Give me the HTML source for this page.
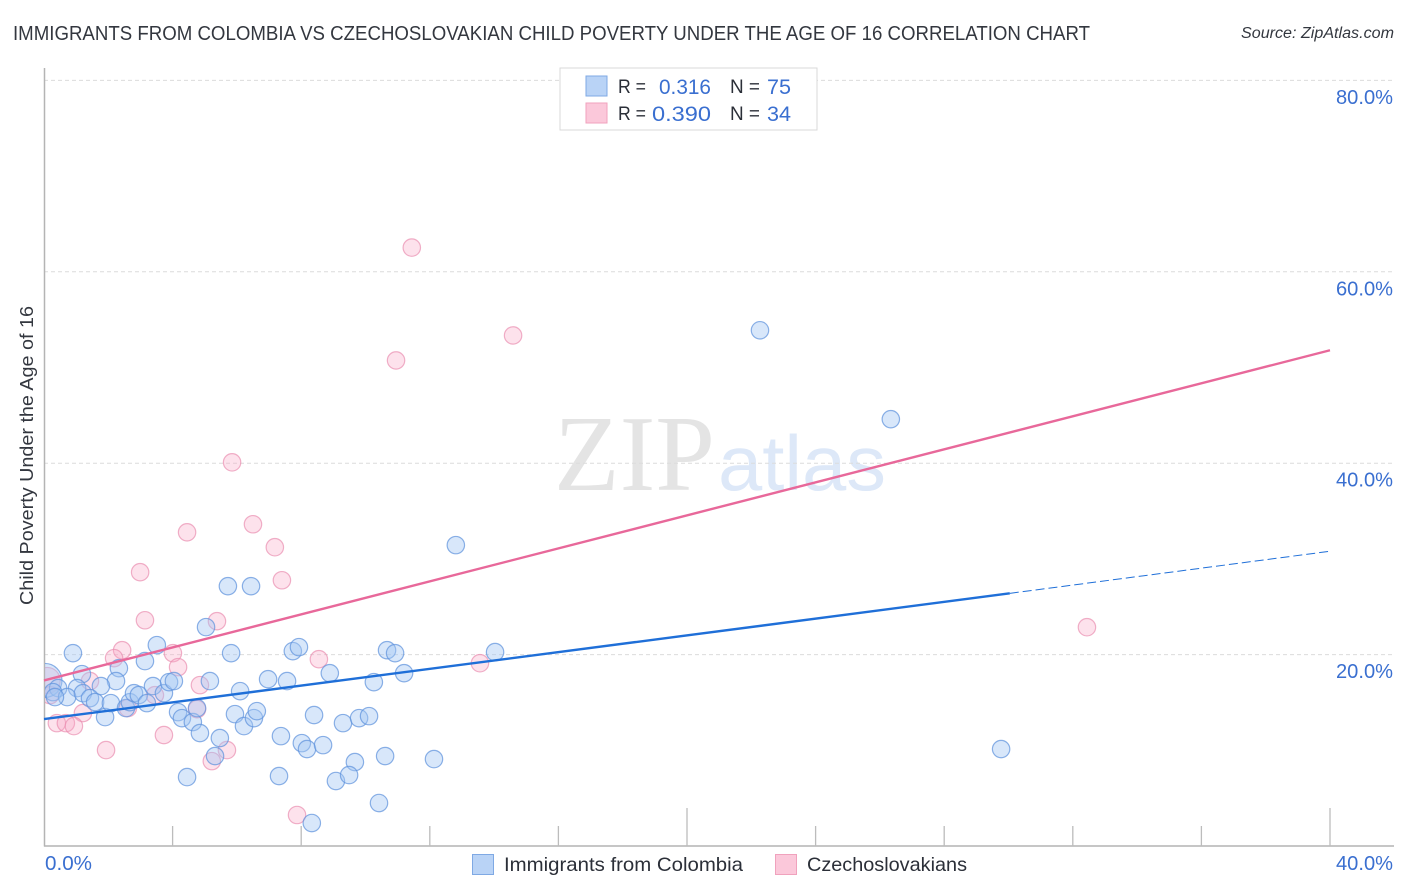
<!DOCTYPE html>
<html>
<head>
<meta charset="utf-8">
<style>
html,body{margin:0;padding:0;background:#fff;}
svg{display:block;}
text{font-family:"Liberation Sans",sans-serif;}
</style>
</head>
<body>
<svg id="chart" width="1406" height="892" viewBox="0 0 1406 892" xmlns="http://www.w3.org/2000/svg">
  <defs>
    <clipPath id="plotClip"><rect x="45" y="60" width="1350" height="787"/></clipPath>
  </defs>
  <rect x="0" y="0" width="1406" height="892" fill="#ffffff"/>
  <text x="13" y="40" font-size="20" fill="#33373f" textLength="1077" lengthAdjust="spacingAndGlyphs">IMMIGRANTS FROM COLOMBIA VS CZECHOSLOVAKIAN CHILD POVERTY UNDER THE AGE OF 16 CORRELATION CHART</text>
  <text x="1241" y="38" font-size="15.5" font-style="italic" fill="#33373f" textLength="153" lengthAdjust="spacingAndGlyphs">Source: ZipAtlas.com</text>
  <g id="watermark">
    <text x="554" y="490" font-size="108" fill="#e4e4e4" style="font-family:'Liberation Serif',serif" textLength="161" lengthAdjust="spacingAndGlyphs">ZIP</text>
    <text x="718" y="490" font-size="78" fill="#dde8f8" textLength="168" lengthAdjust="spacingAndGlyphs">atlas</text>
  </g>
  <g id="grid"></g>
  <g id="axes"></g>
  <g id="pinkPoints" clip-path="url(#plotClip)"></g>
  <g id="bluePoints" clip-path="url(#plotClip)"></g>
  <g id="trends"></g>
  <text transform="translate(33,455.5) rotate(-90)" text-anchor="middle" font-size="18" fill="#33373f" textLength="299" lengthAdjust="spacingAndGlyphs">Child Poverty Under the Age of 16</text>
  <g>
    <rect x="560" y="68" width="257" height="62" fill="#ffffff" stroke="#d9d9d9" stroke-width="1"/>
    <rect x="586" y="76" width="21" height="20" fill="#b9d3f6" stroke="#7fa9e4" stroke-width="1"/>
    <rect x="586" y="103" width="21" height="20" fill="#fbc8da" stroke="#f0a2bd" stroke-width="1"/>
    <text x="618" y="93" font-size="19" fill="#2b2f38" textLength="28" lengthAdjust="spacingAndGlyphs">R =</text>
    <text x="659" y="94" font-size="21" fill="#3a6fd0" textLength="52" lengthAdjust="spacingAndGlyphs">0.316</text>
    <text x="730" y="93" font-size="19" fill="#2b2f38" textLength="30" lengthAdjust="spacingAndGlyphs">N =</text>
    <text x="767" y="94" font-size="21" fill="#3a6fd0" textLength="24" lengthAdjust="spacingAndGlyphs">75</text>
    <text x="618" y="120" font-size="19" fill="#2b2f38" textLength="28" lengthAdjust="spacingAndGlyphs">R =</text>
    <text x="652" y="121" font-size="21" fill="#3a6fd0" textLength="59" lengthAdjust="spacingAndGlyphs">0.390</text>
    <text x="730" y="120" font-size="19" fill="#2b2f38" textLength="30" lengthAdjust="spacingAndGlyphs">N =</text>
    <text x="767" y="121" font-size="21" fill="#3a6fd0" textLength="24" lengthAdjust="spacingAndGlyphs">34</text>
  </g>
  <g>
    <rect x="472.5" y="854.5" width="21" height="20" fill="#b9d3f6" stroke="#7fa9e4" stroke-width="1"/>
    <text x="504" y="871" font-size="19.5" fill="#2b2f38" textLength="239" lengthAdjust="spacingAndGlyphs">Immigrants from Colombia</text>
    <rect x="775.5" y="854.5" width="21" height="20" fill="#fbc8da" stroke="#f0a2bd" stroke-width="1"/>
    <text x="807" y="871" font-size="19.5" fill="#2b2f38" textLength="160" lengthAdjust="spacingAndGlyphs">Czechoslovakians</text>
  </g>
</svg>
<script>
var yTickValues = [20, 40, 60, 80];
var yTickLabels = ["20.0%", "40.0%", "60.0%", "80.0%"];
var xTickValues = [4, 8, 12, 16, 20, 24, 28, 32, 36, 40];
var xMajorTicks = [20, 40];
var xEdgeValues = [0, 40];
var xEdgeLabels = ["0.0%", "40.0%"];

var colombiaX = [22.27,26.34,12.81,29.77,5.72,6.44,5.04,3.51,0.90,3.14,5.82,7.74,7.93,10.67,10.92,14.03,1.18,2.33,2.24,1.77,0.03,0.44,1.03,0.28,0.72,1.21,1.43,1.59,1.90,2.08,2.55,2.67,2.80,2.95,3.20,3.39,3.73,3.89,4.04,5.16,6.10,6.97,7.56,8.89,10.26,11.20,4.17,4.29,4.63,4.76,4.85,5.47,5.94,6.22,6.53,6.62,7.37,8.40,9.30,9.80,10.11,8.02,8.18,8.68,9.67,10.61,12.13,4.45,5.32,7.31,9.08,9.49,10.42,8.33,0.34];
var colombiaY = [53.89,44.6,31.44,10.13,27.15,27.15,22.87,20.99,20.15,19.32,20.15,20.36,20.78,20.46,20.15,20.26,17.96,18.58,17.23,16.71,17.3,16.5,16.5,16.08,15.56,15.97,15.45,15.04,13.47,14.93,14.41,15.03,15.97,15.77,14.93,16.71,15.97,17.12,17.23,17.23,16.18,17.43,17.23,18.06,17.12,18.06,13.99,13.36,12.95,14.41,11.8,11.28,13.78,12.53,13.36,14.09,11.48,13.68,12.84,13.36,13.57,10.75,10.13,10.54,8.77,9.4,9.08,7.2,9.4,7.31,6.79,7.41,4.49,2.4,15.56];
var colombiaLargeIndex = 20;

var czechX = [11.44,14.59,10.95,5.85,4.45,6.5,7.18,2.99,7.40,3.14,5.38,2.43,2.18,4.01,4.17,8.55,13.56,32.44,4.85,0.10,0.19,1.43,1.21,0.40,0.68,0.93,2.61,3.45,4.76,3.73,1.93,5.69,5.22,7.87];
var czechY = [62.53,53.35,50.74,40.09,32.78,33.62,31.22,28.61,27.77,23.59,23.49,20.46,19.63,20.15,18.69,19.52,19.1,22.86,16.81,17.3,15.76,17.23,13.89,12.84,12.84,12.53,14.41,15.76,14.3,11.59,10.02,10.02,8.87,3.24];
var czechLargeIndex = 19;

var czechTrendX = [0, 40];
var czechTrendY = [17.3, 51.8];
var colombiaTrendX = [0, 30.04];
var colombiaTrendY = [13.26, 26.4];
var colombiaDashX = [30.04, 40];
var colombiaDashY = [26.4, 30.8];

var NS = 'http://www.w3.org/2000/svg';
function xPos(v) { return 44 + v * 32.15; }
function yPos(v) { return 846 - v * 9.57; }
function make(tag, parentId, attrs) {
  var el = document.createElementNS(NS, tag);
  for (var k in attrs) { el.setAttribute(k, attrs[k]); }
  document.getElementById(parentId).appendChild(el);
  return el;
}

yTickValues.forEach(function (v, i) {
  var gl = make('line', 'grid', {x1: 44, x2: 1394, y1: yPos(v), y2: yPos(v), stroke: '#dcdcdc', 'stroke-width': 1, 'stroke-dasharray': '4 3'});
  
  
  var lb = make('text', 'axes', {x: 1393, y: yPos(v) + 23.5, 'text-anchor': 'end', 'font-size': 20, fill: '#3a6fd0', textLength: 57, lengthAdjust: 'spacingAndGlyphs'});
  
  
  lb.textContent = yTickLabels[i];
});

var yAxisLine = make('line', 'axes', {x1: 44.5, x2: 44.5, y1: 68, y2: 846.5, stroke: '#b4b4b4', 'stroke-width': 1.5});


var xAxisLine = make('line', 'axes', {x1: 44, x2: 1394, y1: 846, y2: 846, stroke: '#b4b4b4', 'stroke-width': 1.5});



xTickValues.forEach(function (v) {
  var major = xMajorTicks.indexOf(v) >= 0;
  var t = make('line', 'axes', {x1: xPos(v), x2: xPos(v), y1: major ? 808 : 826, y2: 846, stroke: '#bcbcbc', 'stroke-width': 1.3});
  
  
});

xEdgeValues.forEach(function (v, i) {
  var isFirst = i === 0;
  var lb = make('text', 'axes', {x: isFirst ? xPos(v) + 1 : 1393, y: 870, 'text-anchor': isFirst ? 'start' : 'end', 'font-size': 20, fill: '#3a6fd0', textLength: isFirst ? 47 : 57, lengthAdjust: 'spacingAndGlyphs'});
  
  
  lb.textContent = xEdgeLabels[i];
});

czechX.forEach(function (v, i) {
  var c = make('circle', 'pinkPoints', {cx: xPos(v), cy: yPos(czechY[i]), r: i === czechLargeIndex ? 13 : 8.7, fill: '#f9a8c4', 'fill-opacity': 0.33, stroke: '#ea8fb0', 'stroke-opacity': 0.7, 'stroke-width': 1.2});
  
  
});

colombiaX.forEach(function (v, i) {
  var c = make('circle', 'bluePoints', {cx: xPos(v), cy: yPos(colombiaY[i]), r: i === colombiaLargeIndex ? 17 : 8.7, fill: '#a3c6f3', 'fill-opacity': 0.42, stroke: '#5f93dc', 'stroke-opacity': 0.72, 'stroke-width': 1.2});
  
  
});

var czechLine = make('line', 'trends', {x1: xPos(czechTrendX[0]), y1: yPos(czechTrendY[0]), x2: xPos(czechTrendX[1]), y2: yPos(czechTrendY[1]), stroke: '#e8689a', 'stroke-width': 2.4});


var colLine = make('line', 'trends', {x1: xPos(colombiaTrendX[0]), y1: yPos(colombiaTrendY[0]), x2: xPos(colombiaTrendX[1]), y2: yPos(colombiaTrendY[1]), stroke: '#1f6fd8', 'stroke-width': 2.4});


var colDash = make('line', 'trends', {x1: xPos(colombiaDashX[0]), y1: yPos(colombiaDashY[0]), x2: xPos(colombiaDashX[1]), y2: yPos(colombiaDashY[1]), stroke: '#1f6fd8', 'stroke-width': 1, 'stroke-dasharray': '9 4'});


</script>
</body>
</html>
